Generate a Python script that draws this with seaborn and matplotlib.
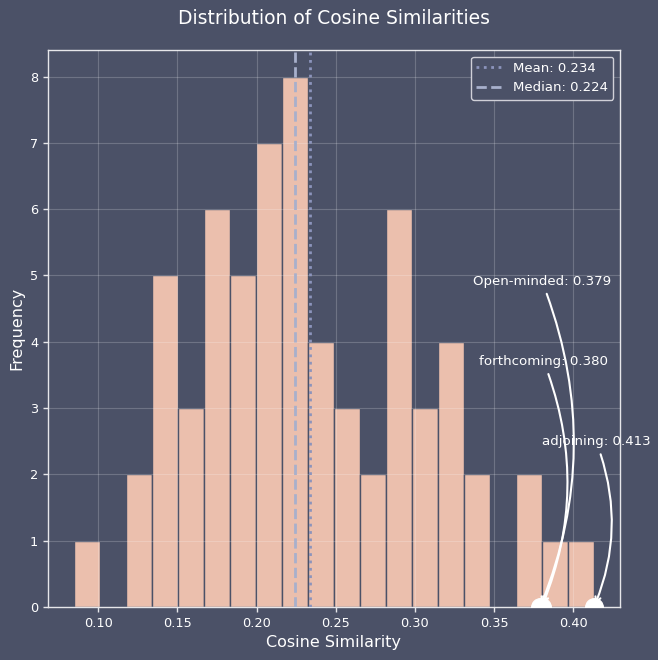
import numpy as np
import pandas as pd
import matplotlib
matplotlib.use("Agg")
import matplotlib.pyplot as plt
import seaborn as sns

# ---- data ----
bin_low = 0.0848
bin_high = 0.4130
counts = [1, 0, 2, 5, 3, 6, 5, 7, 8, 4, 3, 2, 6, 3, 4, 2, 0, 2, 1, 1]
mean_val = 0.234
median_val = 0.224
words = ["Open-minded", "forthcoming", "adjoining"]
word_scores = [0.379, 0.380, 0.413]

# ---- layout ----
label_x = [0.3802, 0.3813, 0.4144]
label_y = [4.91, 3.70, 2.49]

BG = "#4b5167"
BAR = "#ebbfad"
FG = "#ffffff"

sns.set_style("darkgrid", rc={
    "axes.facecolor": BG,
    "figure.facecolor": BG,
    "axes.edgecolor": "#e6e6ea",
    "axes.labelcolor": FG,
    "text.color": FG,
    "xtick.color": FG,
    "ytick.color": FG,
    "grid.color": "#ffffff",
})
plt.rcParams["font.family"] = ["DejaVu Sans"]

nb = len(counts)
edges = np.linspace(bin_low, bin_high, nb + 1)
centers = (edges[:-1] + edges[1:]) / 2
df = pd.DataFrame({"score": centers, "count": counts})

fig = plt.figure(figsize=(6.58, 6.60), dpi=100)
ax = fig.add_axes([48 / 658, 1 - 607 / 660, 572 / 658, 557 / 660])

sns.histplot(data=df, x="score", weights="count", bins=nb, binrange=(bin_low, bin_high), ax=ax,
             color=BAR, alpha=1.0, edgecolor=BG, linewidth=1.0)

ax.axvline(mean_val, color="#8c94bc", linestyle=":", linewidth=2, label=f"Mean: {mean_val:.3f}", zorder=4)
ax.axvline(median_val, color="#a8b0cc", linestyle="--", linewidth=2, label=f"Median: {median_val:.3f}", zorder=4)

ax.scatter(word_scores, [0] * len(word_scores), s=160, color="white", zorder=6)
for w, s, lx, ly in zip(words, word_scores, label_x, label_y):
    ax.annotate(f"{w}: {s:.3f}", xy=(s, 0), xytext=(lx, ly), textcoords="data",
                ha="center", va="center", color="white", fontsize=9.6,
                annotation_clip=False,
                arrowprops=dict(arrowstyle="->", color="white", lw=1.5,
                                connectionstyle="arc3,rad=-0.2"))

ax.set_axisbelow(False)
ax.grid(True, color="white", alpha=0.2, linewidth=0.8)
for sp in ax.spines.values():
    sp.set_visible(True)
    sp.set_color("#e6e6ea")
    sp.set_linewidth(1.0)
ax.tick_params(axis="both", which="both", length=3.5, width=1, color="#e6e6ea",
               labelsize=9.3, labelcolor=FG, bottom=True, left=True)

ax.set_title("Distribution of Cosine Similarities", fontsize=13.5, color=FG, pad=19)
ax.set_xlabel("Cosine Similarity", fontsize=11.5, color=FG)
ax.set_ylabel("Frequency", fontsize=11.5, color=FG)

leg = ax.legend(loc="upper right", fontsize=9.5, facecolor=BG, edgecolor="#d0d0d8",
                framealpha=1.0, labelcolor=FG)

fig.savefig("out.png", dpi=100, facecolor=BG)
